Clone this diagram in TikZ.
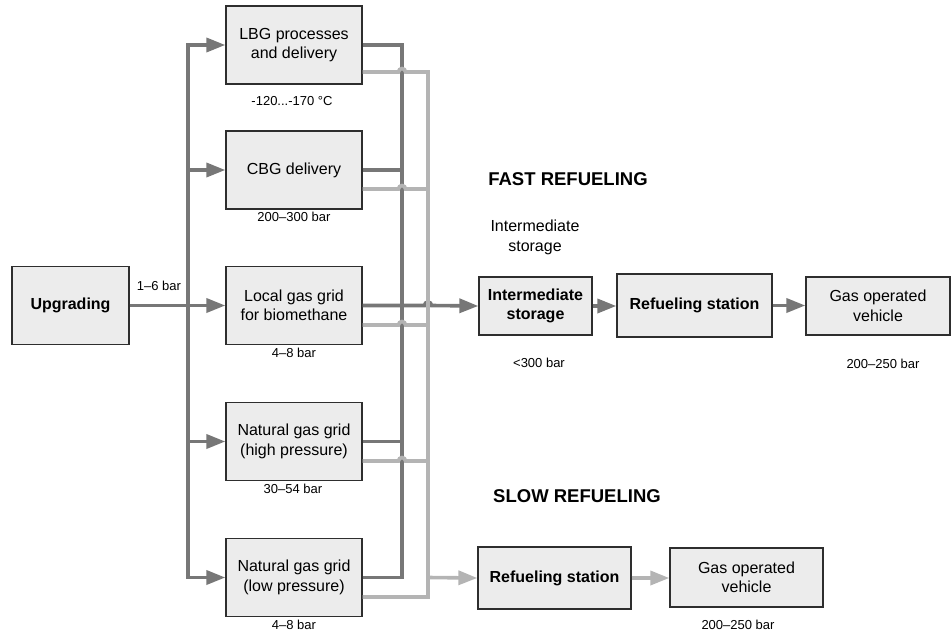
\documentclass[tikz,border=0pt]{standalone}
\usepackage{fontspec}
\setmainfont{Liberation Sans}
\usetikzlibrary{arrows.meta}
\definecolor{boxfill}{HTML}{ECECEC}
\definecolor{boxline}{HTML}{2E2E2E}
\definecolor{darkflow}{HTML}{777777}
\definecolor{liteflow}{HTML}{B4B4B4}
\begin{document}
\begin{tikzpicture}[x=1pt,y=-1pt,
  box/.style={draw=boxline, fill=boxfill, line width=1.3pt, inner sep=0pt,
    minimum width=136pt, minimum height=78pt, align=center,
    font=\fontsize{16}{19.5}\selectfont},
  boldbox/.style={box, font=\fontsize{16}{19.5}\selectfont\bfseries},
  note/.style={font=\fontsize{13}{15}\selectfont, inner sep=0pt},
  heading/.style={font=\fontsize{18.5}{22}\selectfont\bfseries, inner sep=0pt},
  darkln/.style={draw=darkflow, line width=3.6pt, line join=miter},
  liteln/.style={draw=liteflow, line width=3.6pt, line join=miter},
  darkarr/.style={darkln, -{Triangle[length=19pt,width=14pt]}},
  litearr/.style={liteln, -{Triangle[length=19pt,width=14pt]}}]
\useasboundingbox (0,0) rectangle (951,634);

% source and distribution routes
\node[boldbox, minimum width=117pt] (up) at (70.5,305.5) {Upgrading};
\node[box] (lbg) at (294,45)    {LBG processes\\and delivery};
\node[box] (cbg) at (294,170)   {CBG delivery};
\node[box] (loc) at (294,305.5) {Local gas grid\\for biomethane};
\node[box] (hig) at (294,441.5) {Natural gas grid\\(high pressure)};
\node[box] (low) at (294,577.5) {Natural gas grid\\(low pressure)};

% fast refueling chain
\node[boldbox, minimum width=113pt, minimum height=58pt] (ist) at (535.5,306) {Intermediate\\storage};
\node[boldbox, minimum width=155pt, minimum height=63pt] (frs) at (694.5,305.5) {Refueling station};
\node[box, minimum width=144pt, minimum height=58pt] (fgv) at (878,306) {Gas operated\\vehicle};

% slow refueling chain
\node[boldbox, minimum width=153pt, minimum height=62pt] (srs) at (554.5,578) {Refueling station};
\node[box, minimum width=153pt, minimum height=59pt] (sgv) at (746.5,577.5) {Gas operated\\vehicle};

% headings and pressure notes
\node[heading] (fasth) at (568,179) {FAST REFUELING};
\node[heading] (slowh) at (577,496) {SLOW REFUELING};
\node[font=\fontsize{16}{20}\selectfont, align=center, inner sep=0pt] (isth) at (535,237) {Intermediate\\storage};
\node[note] (n0) at (159,286) {1–6 bar};
\node[note] (n1) at (292,101) {-120...-170 °C};
\node[note] (n2) at (294,217) {200–300 bar};
\node[note] (n3) at (294,353) {4–8 bar};
\node[note] (n4) at (293,489) {30–54 bar};
\node[note] (n5) at (294,625) {4–8 bar};
\node[note] (n6) at (539,363) {<300 bar};
\node[note] (n7) at (883,364) {200–250 bar};
\node[note] (n8) at (738,625) {200–250 bar};

% trunk and collector positions
\coordinate (tr) at (188,0);
\coordinate (dk) at (402,0);
\coordinate (lt) at (428,0);

% trunk from upgrading to each route
\draw[darkln, line cap=rect] (lbg.west -| tr) -- (low.west -| tr);
\draw[darkln] (up.east) -- (loc.west -| tr);
\draw[darkarr] (lbg.west -| tr) -- (lbg.west);
\draw[darkarr] (cbg.west -| tr) -- (cbg.west);
\draw[darkarr] (loc.west -| tr) -- (loc.west);
\draw[darkarr] (hig.west -| tr) -- (hig.west);
\draw[darkarr] (low.west -| tr) -- (low.west);

% dark collector towards fast refueling
\draw[darkln] (lbg.east) -- (lbg.east -| dk) -- (low.east -| dk) -- (low.east);
\draw[darkln] (cbg.east) -- (cbg.east -| dk);
\draw[darkln] (hig.east) -- (hig.east -| dk);
\coordinate (hopf) at (loc.east -| lt);
\draw[darkarr] (loc.east) -- ([xshift=-3.5pt]hopf)
  arc[start angle=180, end angle=0, radius=3.5pt] -- (ist.west);

% light collector towards slow refueling
\coordinate (l1) at ([yshift=-27pt]lbg.east);
\coordinate (l2) at ([yshift=-19pt]cbg.east);
\coordinate (l3) at ([yshift=-19.5pt]loc.east);
\coordinate (l4) at ([yshift=-19.5pt]hig.east);
\coordinate (l5) at ([yshift=-19.5pt]low.east);
\coordinate (k1) at (l1 -| dk);
\coordinate (k2) at (l2 -| dk);
\coordinate (k3) at (l3 -| dk);
\coordinate (k4) at (l4 -| dk);
\draw[liteln] (l1) -- ([xshift=-3.5pt]k1) arc[start angle=180, end angle=0, radius=3.5pt]
  -- (l1 -| lt) -- (l5 -| lt) -- (l5);
\draw[liteln] (l2) -- ([xshift=-3.5pt]k2) arc[start angle=180, end angle=0, radius=3.5pt] -- (l2 -| lt);
\draw[liteln] (l3) -- ([xshift=-3.5pt]k3) arc[start angle=180, end angle=0, radius=3.5pt] -- (l3 -| lt);
\draw[liteln] (l4) -- ([xshift=-3.5pt]k4) arc[start angle=180, end angle=0, radius=3.5pt] -- (l4 -| lt);
\draw[litearr] (low.east -| lt) -- (srs.west);

% chains to the vehicles
\draw[darkarr] (ist.east) -- (ist.east -| frs.west);
\draw[darkarr] (frs.east) -- (frs.east -| fgv.west);
\draw[litearr] (srs.east) -- (srs.east -| sgv.west);
\end{tikzpicture}
\end{document}
